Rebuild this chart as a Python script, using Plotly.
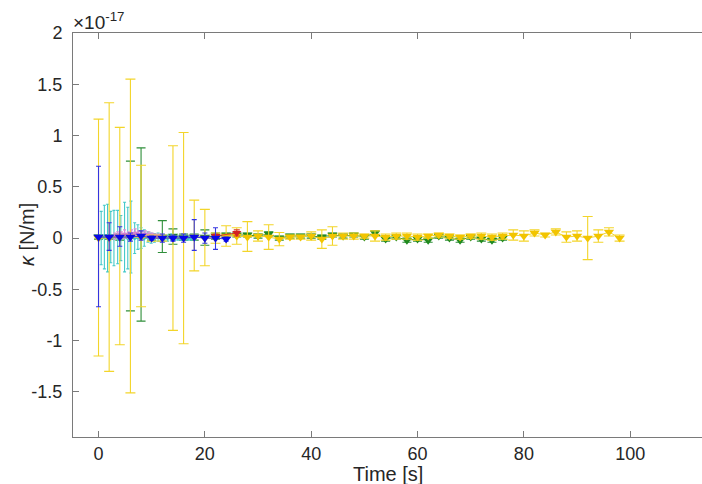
import plotly.graph_objects as go

# Values are in units of 1e-17 N/m (axis carries a x10^-17 multiplier)

# --- yellow series: every 2 s, 0..98 s
t_yellow = list(range(0, 100, 2))
k_yellow = [0.00, 0.00, 0.01, 0.01, 0.01, 0.00, 0.00, 0.00, 0.00, 0.01,
            0.00, 0.00, 0.02, 0.02, 0.01, 0.02, 0.01, -0.01, 0.01, 0.01,
            0.02, -0.01, 0.02, 0.02, 0.02, 0.02, 0.02, 0.01, 0.02, 0.02,
            0.01, 0.02, 0.03, 0.02, 0.01, 0.02, 0.02, 0.01, 0.02, 0.03,
            0.02, 0.05, 0.03, 0.06, 0.01, 0.02, 0.00, 0.02, 0.06, 0.00]
e_yellow_up = [1.16, 1.32, 1.07, 1.54, 0.70, 0.03, 0.03, 0.90, 1.03, 0.36,
               0.28, 0.05, 0.10, 0.08, 0.15, 0.05, 0.12, 0.065, 0.02, 0.02,
               0.04, 0.09, 0.09, 0.03, 0.03, 0.02, 0.05, 0.03, 0.03, 0.03,
               0.03, 0.02, 0.02, 0.02, 0.02, 0.02, 0.03, 0.03, 0.03, 0.05,
               0.05, 0.03, 0.02, 0.03, 0.05, 0.05, 0.21, 0.06, 0.04, 0.03]
e_yellow_dn = [1.15, 1.30, 1.05, 1.52, 0.68, 0.03, 0.03, 0.90, 1.03, 0.33,
               0.27, 0.05, 0.10, 0.08, 0.14, 0.05, 0.12, 0.065, 0.02, 0.02,
               0.04, 0.09, 0.09, 0.03, 0.03, 0.02, 0.05, 0.03, 0.03, 0.03,
               0.03, 0.02, 0.02, 0.02, 0.02, 0.02, 0.03, 0.03, 0.03, 0.05,
               0.05, 0.03, 0.02, 0.03, 0.05, 0.05, 0.21, 0.06, 0.04, 0.03]

# --- green series: every 2 s, 0..76 s
t_green = list(range(0, 78, 2))
k_green = [0.01, 0.01, 0.01, 0.01, 0.02, 0.01, 0.01, 0.02, 0.01, 0.01,
           0.01, 0.02, 0.03, 0.03, 0.03, 0.02, 0.04, 0.00, 0.02, 0.02,
           0.02, 0.01, 0.03, 0.02, 0.03, 0.01, 0.05, -0.01, 0.01, -0.02,
           -0.01, -0.02, 0.02, 0.00, -0.02, 0.01, -0.01, -0.02, 0.00]
e_green_up = [0.02, 0.02, 0.03, 0.74, 0.86, 0.03, 0.16, 0.07, 0.03, 0.03,
              0.07, 0.03, 0.02, 0.02, 0.02, 0.02, 0.02, 0.02, 0.02, 0.02,
              0.02, 0.02, 0.02, 0.02, 0.02, 0.02, 0.02, 0.02, 0.02, 0.02,
              0.02, 0.02, 0.02, 0.02, 0.02, 0.02, 0.02, 0.02, 0.02]
e_green_dn = [0.02, 0.02, 0.03, 0.72, 0.83, 0.03, 0.15, 0.08, 0.03, 0.03,
              0.08, 0.03, 0.02, 0.02, 0.02, 0.02, 0.02, 0.02, 0.02, 0.02,
              0.02, 0.02, 0.02, 0.02, 0.02, 0.02, 0.02, 0.02, 0.02, 0.02,
              0.02, 0.02, 0.02, 0.02, 0.02, 0.02, 0.02, 0.02, 0.02]

# --- cyan series: dense sampling, 0.5..18 s
t_cyan = [0.5, 1.1, 1.7, 2.3, 2.9, 3.6, 4.2, 4.9, 5.5, 6.1, 6.8, 7.4, 8.0,
          8.6, 9.3, 9.9, 10.5, 11.2, 11.8, 12.4, 13.0, 13.7, 14.3, 14.9,
          15.6, 16.2, 16.8, 17.4, 18.1]
k_cyan = [0.00, 0.01, 0.00, 0.01, 0.00, 0.01, 0.00, 0.01, 0.00, 0.01, 0.00,
          0.01, 0.00, 0.00, 0.01, 0.00, 0.00, 0.01, 0.00, 0.00, 0.00, 0.01,
          0.00, 0.00, 0.00, 0.01, 0.00, 0.00, 0.00]
e_cyan = [0.26, 0.31, 0.33, 0.25, 0.27, 0.26, 0.22, 0.34, 0.30, 0.35, 0.15,
          0.12, 0.10, 0.08, 0.05, 0.05, 0.04, 0.04, 0.03, 0.03, 0.03, 0.03,
          0.02, 0.02, 0.02, 0.02, 0.02, 0.02, 0.02]

# --- pink series: dense sampling, 3..11.5 s
t_pink = [3.0, 3.6, 4.3, 4.9, 5.6, 6.2, 6.9, 7.5, 8.2, 8.8, 9.5, 10.1,
          10.8, 11.4]
k_pink = [0.02, 0.03, 0.03, 0.04, 0.03, 0.04, 0.05, 0.04, 0.03, 0.04, 0.03,
          0.03, 0.02, 0.02]
e_pink = [0.03, 0.03, 0.03, 0.04, 0.03, 0.04, 0.04, 0.03, 0.03, 0.03, 0.03,
          0.02, 0.02, 0.02]

# --- red series
t_red = [22, 26]
k_red = [0.02, 0.05]
e_red = [0.02, 0.03]

# --- blue series: every 2 s, 0..24 s
t_blue = list(range(0, 26, 2))
k_blue = [0.01, 0.01, 0.01, 0.01, 0.02, 0.00, 0.00, 0.00, 0.00, 0.01,
          0.00, 0.00, -0.01]
e_blue_up = [0.69, 0.14, 0.10, 0.04, 0.05, 0.02, 0.04, 0.03, 0.04, 0.17,
             0.05, 0.10, 0.02]
e_blue_dn = [0.68, 0.13, 0.09, 0.04, 0.04, 0.02, 0.04, 0.03, 0.04, 0.13,
             0.05, 0.11, 0.02]

y_tickvals = [-1.5, -1, -0.5, 0, 0.5, 1, 1.5, 2]
y_ticktext = ["-1.5", "-1", "-0.5", "0", "0.5", "1", "1.5", "2"]
x_tickvals = [0, 20, 40, 60, 80, 100]


def series(t, k, up, dn, line_col, mark_col, cap, msize, lw=1.0):
    return go.Scatter(
        x=t, y=k, mode="lines+markers",
        line=dict(color=line_col, width=lw),
        marker=dict(symbol="triangle-down", size=msize, color=mark_col,
                    line=dict(width=0)),
        error_y=dict(type="data", symmetric=False, array=up, arrayminus=dn,
                     color=line_col, thickness=1.1, width=cap),
        showlegend=False, hoverinfo="skip",
    )


fig = go.Figure()
fig.add_trace(series(t_green, k_green, e_green_up, e_green_dn,
                     "#2f8f3a", "#1f8a1f", 4.5, 9))
fig.add_trace(series(t_cyan, k_cyan, e_cyan, e_cyan,
                     "#45c9c9", "#35c0c8", 1.5, 5, lw=3))
fig.add_trace(series(t_pink, k_pink, e_pink, e_pink,
                     "#dc8fd8", "#d57fd0", 1.5, 5, lw=3))
fig.add_trace(series(t_yellow, k_yellow, e_yellow_up, e_yellow_dn,
                     "#f3d52a", "#f2c400", 5, 9))
fig.add_trace(series(t_red, k_red, e_red, e_red,
                     "#d83a2a", "#d42020", 3, 8))
fig.add_trace(series(t_blue, k_blue, e_blue_up, e_blue_dn,
                     "#3434e0", "#0808e8", 2.5, 9))

axis_col = "#7a7a7a"
font_family = "Liberation Sans, Arial, sans-serif"
tick_font = dict(family=font_family, size=18, color="#262626")
title_font = dict(family=font_family, size=20, color="#262626")

fig.update_layout(
    width=702, height=484,
    margin=dict(l=73, r=0, t=33, b=47),
    paper_bgcolor="white", plot_bgcolor="white",
    xaxis=dict(
        range=[-4.8, 113.5], tickvals=x_tickvals, ticks="inside", ticklen=6,
        tickcolor=axis_col, showline=True, linecolor=axis_col, linewidth=1,
        mirror="ticks", showgrid=False, zeroline=False, tickfont=tick_font,
        automargin=False,
    ),
    yaxis=dict(
        range=[-1.94, 2], tickvals=y_tickvals, ticktext=y_ticktext,
        ticks="inside", ticklen=6, tickcolor=axis_col, showline=True,
        linecolor=axis_col, linewidth=1, mirror=False, showgrid=False,
        zeroline=False, tickfont=tick_font, ticklabelstandoff=6,
        automargin=False,
    ),
    annotations=[
        dict(text="×10<sup>-17</sup>", xref="paper", yref="paper", x=0, y=1,
             xanchor="left", yanchor="bottom", showarrow=False, xshift=-2,
             yshift=-2, font=dict(family=font_family, size=19,
                                  color="#262626")),
        dict(text="Time [s]", xref="paper", yref="paper", x=0.5, y=0,
             xanchor="center", yanchor="middle", yshift=-37, borderpad=0,
             showarrow=False, font=title_font),
        dict(text="<i>κ</i> [N/m]", xref="paper", yref="paper", x=0, y=0.5,
             xanchor="center", yanchor="middle", xshift=-46, textangle=-90,
             showarrow=False, font=title_font),
    ],
)

fig.write_html("out.html")
